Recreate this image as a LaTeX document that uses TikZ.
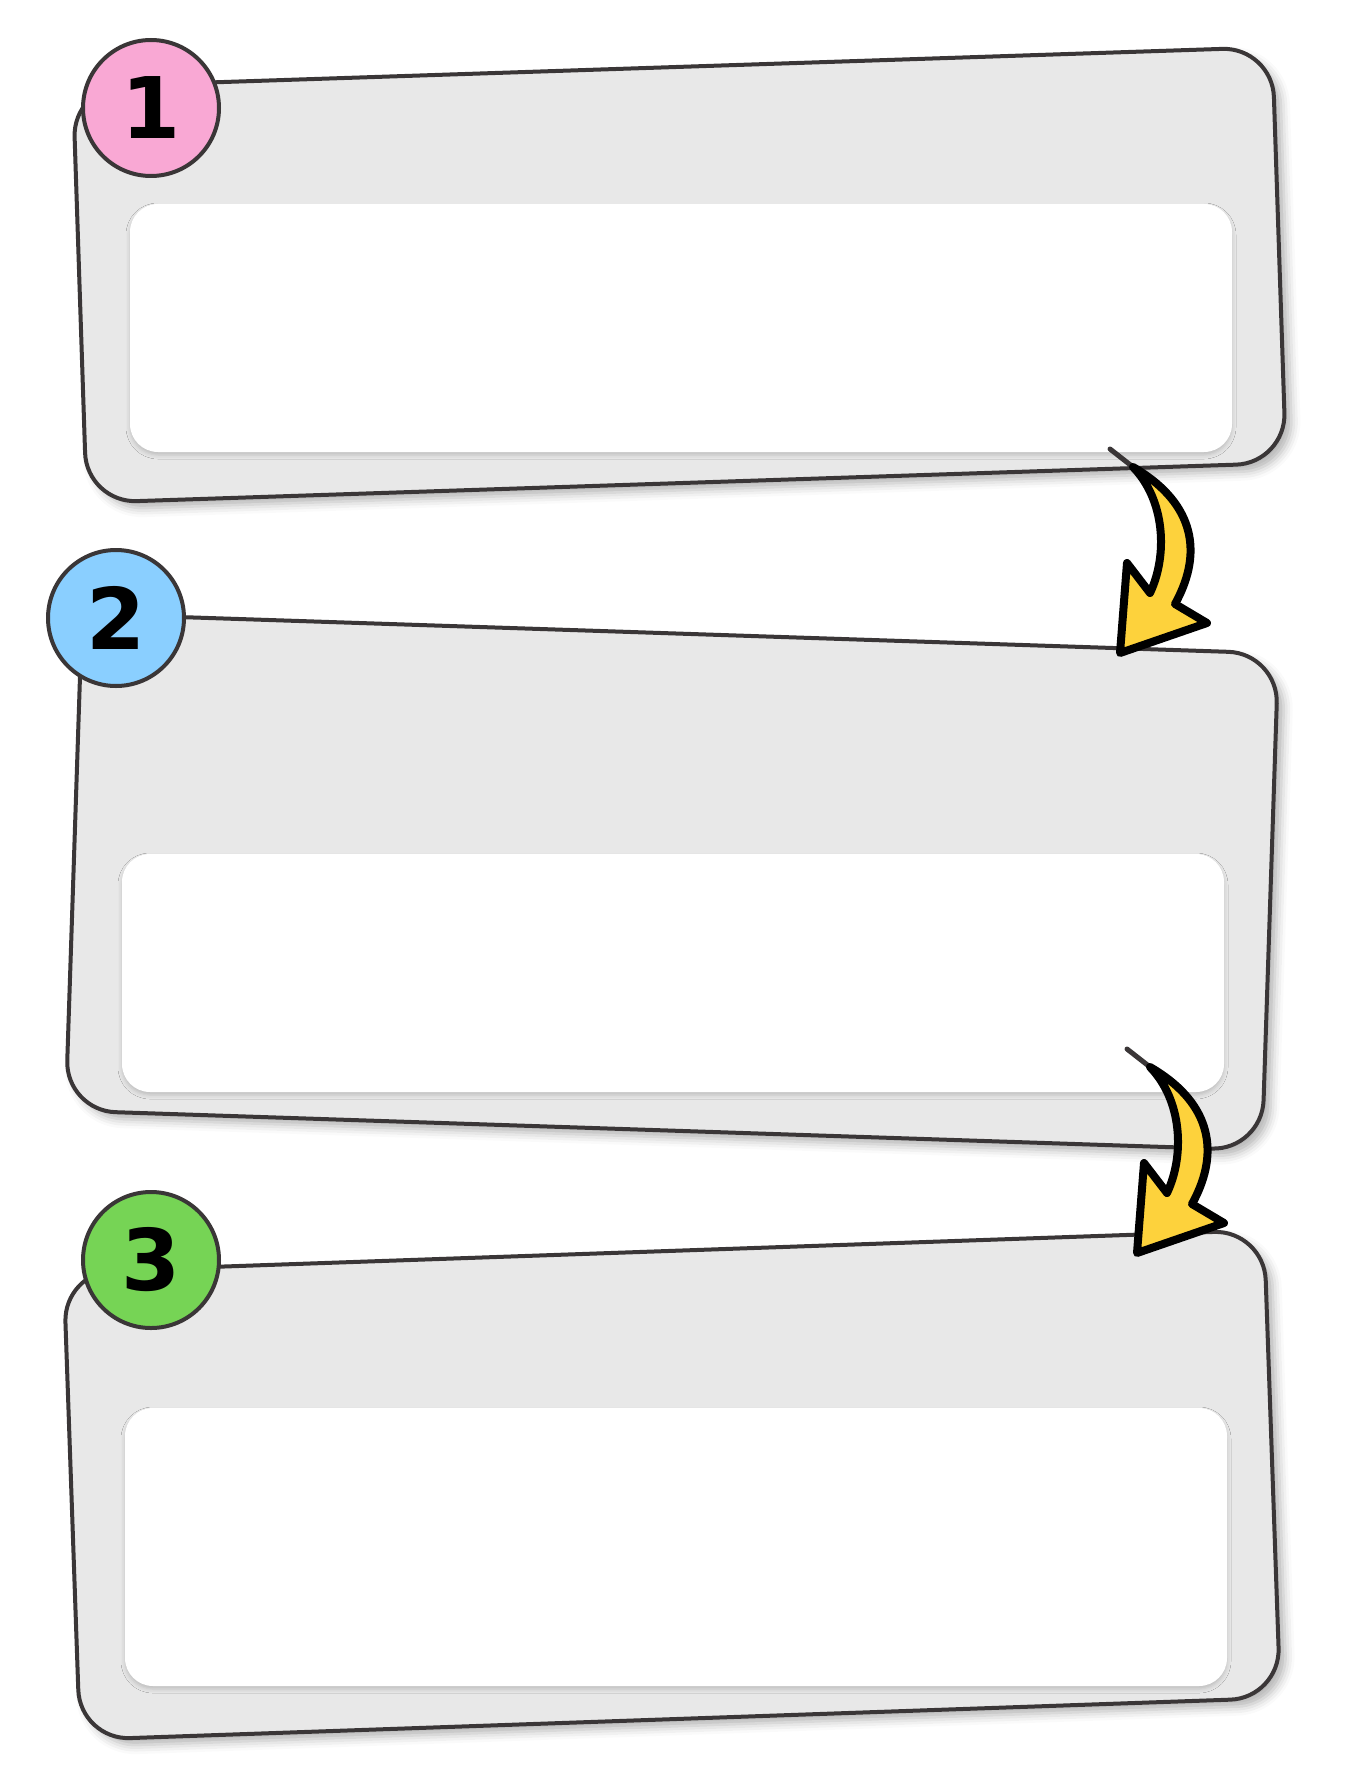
\documentclass[tikz,border=0pt]{standalone}
\usepackage{fontspec}
\setmainfont{DejaVu Sans}
\usetikzlibrary{shadows.blur}

\definecolor{panelgray}{HTML}{E8E8E8}
\definecolor{inkgray}{HTML}{3A3637}
\definecolor{stepone}{HTML}{F9A8D4}
\definecolor{steptwo}{HTML}{8ACFFF}
\definecolor{stepthree}{HTML}{76D455}
\definecolor{arrowyellow}{HTML}{FDD23C}

\begin{document}
\begin{tikzpicture}[x=1pt,y=-1pt,
  panel/.style={draw=inkgray, fill=panelgray, line width=4pt, rounded corners=50pt,
    blur shadow={shadow xshift=7pt, shadow yshift=-7pt, shadow blur radius=9pt, shadow opacity=30}},
  card/.style={fill=white, rounded corners=28pt,
    blur shadow={shadow xshift=0pt, shadow yshift=-3pt, shadow blur radius=4pt, shadow opacity=18}},
  badge/.style={circle, draw=inkgray, line width=4pt, minimum size=136pt, inner sep=0pt,
    font=\bfseries\fontsize{85}{85}\selectfont},
  bentarrow/.style={draw=black, fill=arrowyellow, line width=8pt, line join=round},
  tail/.style={draw=inkgray, line width=5pt, line cap=round}]
\useasboundingbox (0,0) rectangle (1359,1779);

\node[panel, rotate=1.9, minimum width=1200pt, minimum height=416pt] (panel1) at (679.5,275) {};
\node[panel, rotate=-1.9, minimum width=1197pt, minimum height=497pt] (panel2) at (672,882) {};
\node[panel, rotate=2, minimum width=1201pt, minimum height=468pt] (panel3) at (672,1485) {};

\node[card, minimum width=1102pt, minimum height=248pt] (card1) at (681,328) {};
\node[card, minimum width=1102pt, minimum height=238pt] (card2) at (673,973) {};
\node[card, minimum width=1102pt, minimum height=278pt] (card3) at (676,1547) {};

\node[badge, fill=stepone] (badge1) at (151,108) {1};
\node[badge, fill=steptwo] (badge2) at (116,618) {2};
\node[badge, fill=stepthree] (badge3) at (151,1260) {3};

\foreach \n/\dx/\dy in {1/0/0, 2/17/600} {
  \begin{scope}[shift={(\dx,\dy)}]
    \draw[tail] (1110,449) coordinate (start\n) -- (1133,467);
    \draw[bentarrow] (1133,467) .. controls (1190,500) and (1206,548) .. (1175,604)
      -- (1207,623) -- (1120,653) -- (1127,563) -- (1150,593)
      .. controls (1168,555) and (1165,500) .. (1133,467) -- cycle;
  \end{scope}
}
\end{tikzpicture}
\end{document}
